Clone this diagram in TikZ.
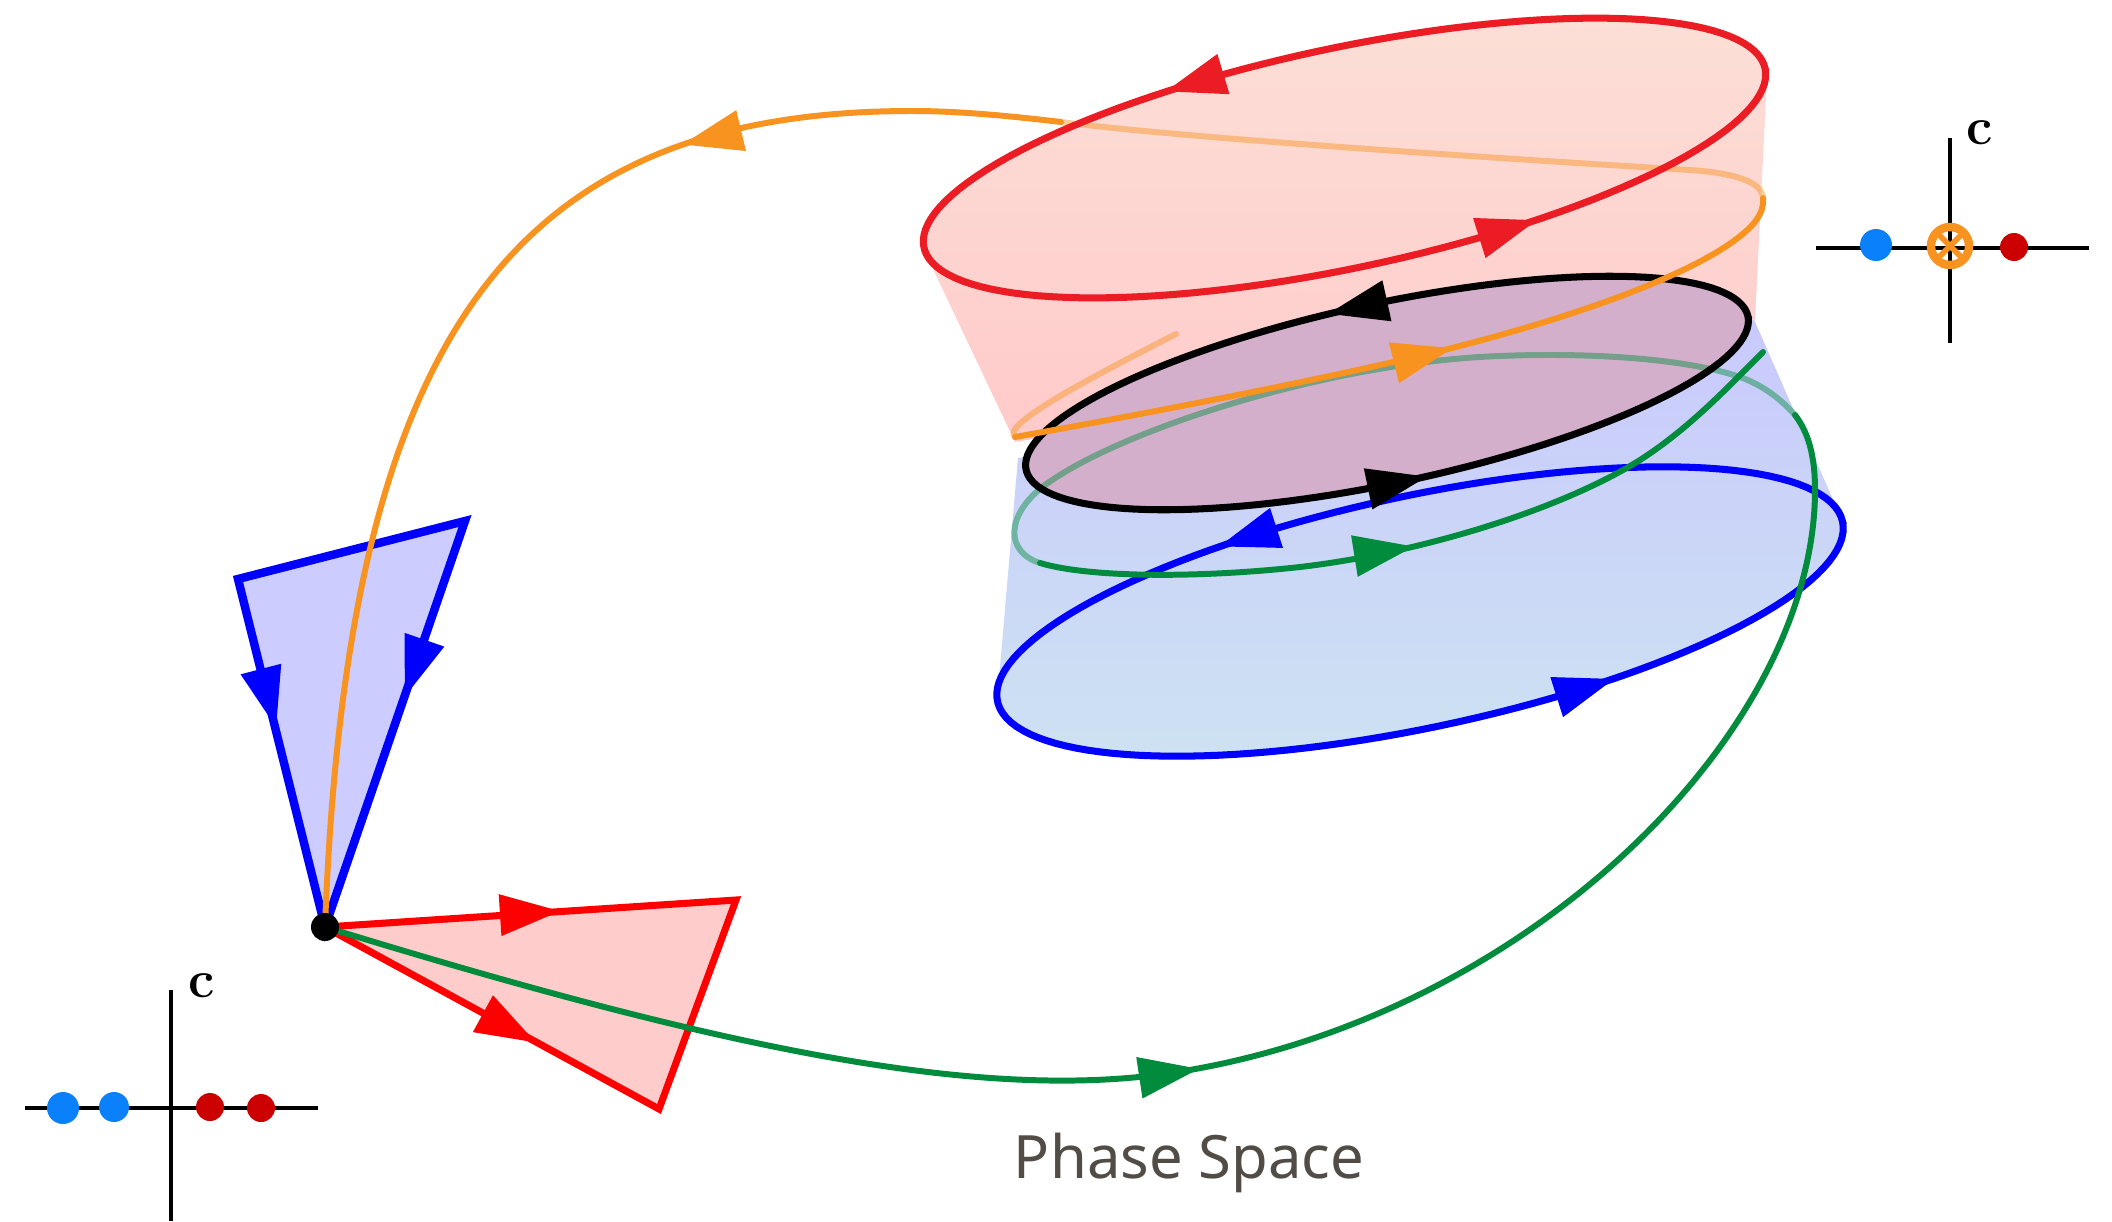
\documentclass[tikz,border=0pt]{standalone}
\usepackage{fontspec}
\newfontfamily\labelfont{Noto Sans}
\definecolor{myred}{HTML}{FF0000}
\definecolor{ellred}{HTML}{EC1C24}
\definecolor{myblue}{HTML}{0000FF}
\definecolor{mygreen}{HTML}{008C3C}
\definecolor{myorange}{HTML}{F7931E}
\definecolor{tripink}{HTML}{FFCCCC}
\definecolor{triblue}{HTML}{CCCCFF}
\definecolor{pinktop}{HTML}{FCDFD6}
\definecolor{pinkbot}{HTML}{FFCACA}
\definecolor{bluetop}{HTML}{C9C9FD}
\definecolor{bluebot}{HTML}{CDE2F2}
\definecolor{mauve}{HTML}{D4AFCB}
\definecolor{dotblue}{HTML}{0A80FA}
\definecolor{dotred}{HTML}{CC0000}
\definecolor{txtgray}{HTML}{514C45}
% ellipse as a plot: cx, cy, a, b, tilt (counterclockwise on screen)
\newcommand\ellplot[5]{plot[domain=0:360,samples=140,variable=\t]({(#1)+(#3)*cos(\t)*cos(#5)-(#4)*sin(\t)*sin(#5)},{(#2)-((#3)*cos(\t)*sin(#5)+(#4)*sin(\t)*cos(#5))})}
% arrow head: colour, x, y, dx, dy (screen direction, y down)
\newcommand\tip[5]{%
  \pgfmathsetmacro\tang{atan2(-(#5),#4)}%
  \fill[#1, shift={(#2,#3)}, rotate=\tang] (28,0) -- (-32,21) -- (-32,-21) -- cycle;}
% arrow head on an ellipse: colour, cx, cy, a, b, tilt, parameter
\newcommand\etip[7]{%
  \pgfmathsetmacro\tpx{(#2)+(#4)*cos(#7)*cos(#6)-(#5)*sin(#7)*sin(#6)}%
  \pgfmathsetmacro\tpy{(#3)-((#4)*cos(#7)*sin(#6)+(#5)*sin(#7)*cos(#6))}%
  \pgfmathsetmacro\tdx{-(#4)*sin(#7)*cos(#6)-(#5)*cos(#7)*sin(#6)}%
  \pgfmathsetmacro\tdy{-(-(#4)*sin(#7)*sin(#6)+(#5)*cos(#7)*cos(#6))}%
  \tip{#1}{\tpx}{\tpy}{\tdx}{\tdy}}
\begin{document}
\begin{tikzpicture}[x=0.01cm,y=-0.01cm,
  ell/.style={line width=2pt},
  traj/.style={line width=1.7pt, line cap=round, line join=round},
  backpart/.style={opacity=0.45},
  axisline/.style={line width=1.2pt, black},
  clabel/.style={font=\bfseries\fontsize{15}{17}\selectfont, inner sep=0pt}]
\useasboundingbox (0,0) rectangle (2112,1221);

% ---------- triangles at the saddle point ----------
\coordinate (D) at (325,927);
\coordinate (BT1) at (238,579);
\coordinate (BT2) at (465,521);
\coordinate (RT1) at (736,900);
\coordinate (RT2) at (659,1109);
\filldraw[fill=triblue, draw=myblue, line width=2.4pt] (D) -- (BT1) -- (BT2) -- cycle;
\filldraw[fill=tripink, draw=myred, line width=2pt] (D) -- (RT1) -- (RT2) -- cycle;
\tip{myblue}{269}{700}{89}{341}
\tip{myblue}{414}{670}{-138}{399}
\tip{myred}{532}{913}{411}{-27}
\tip{myred}{511}{1029}{334}{182}

% ---------- surfaces ----------
\shade[top color=bluetop, bottom color=bluebot]
  (1752,315) -- (1018,458) -- (998,690) -- (1845,527) -- cycle
  \ellplot{1420}{611.5}{432}{116}{12} -- cycle;
\shade[top color=pinktop, bottom color=pinkbot]
  (1767,77) -- (924,250) -- (1015,442) -- (1755,320) -- cycle
  \ellplot{1344.5}{158}{430}{110}{12} -- cycle;
\fill[mauve] \ellplot{1387}{393}{369}{90}{12} -- cycle;

% ---------- hidden parts of trajectories ----------
\draw[traj, myorange, backpart] (1176,334) .. controls (1090,378) and (1000,425) .. (1015,437);
\draw[traj, myorange, backpart] (1763,198) .. controls (1762,182) and (1735,173) .. (1690,170)
  .. controls (1560,162) and (1200,140) .. (1061,122);
\draw[traj, mygreen, backpart] (1795,415) .. controls (1780,398) and (1762,385) .. (1740,377)
  .. controls (1690,360) and (1600,352) .. (1500,356)
  .. controls (1330,362) and (1120,430) .. (1045,485)
  .. controls (1005,515) and (1005,552) .. (1040,563);

% ---------- periodic orbits ----------
\draw[ell, myblue] \ellplot{1420}{611.5}{432}{116}{12} -- cycle;
\draw[ell, black] \ellplot{1387}{393}{369}{90}{12} -- cycle;
\draw[ell, ellred] \ellplot{1344.5}{158}{430}{110}{12} -- cycle;
\etip{ellred}{1344.5}{158}{430}{110}{12}{108}
\etip{ellred}{1344.5}{158}{430}{110}{12}{290}
\etip{black}{1387}{393}{369}{90}{12}{92}
\etip{black}{1387}{393}{369}{90}{12}{269}
\etip{myblue}{1420}{611.5}{432}{116}{12}{111}
\etip{myblue}{1420}{611.5}{432}{116}{12}{290}

% ---------- visible parts of trajectories ----------
\draw[traj, myorange] (1015,437) .. controls (1150,413) and (1330,378) .. (1440,351)
  .. controls (1580,316) and (1700,272) .. (1745,232)
  .. controls (1760,219) and (1764,208) .. (1763,198);
\draw[traj, myorange] (1061,122) .. controls (1010,116) and (960,111) .. (912,111)
  .. controls (511,111) and (347,337) .. (D);
\draw[traj, mygreen] (D) .. controls (700,1042) and (971,1103) .. (1171,1073)
  .. controls (1525,1020) and (1815,733) .. (1815,490)
  .. controls (1815,455) and (1808,432) .. (1795,415);
\draw[traj, mygreen] (1040,563) .. controls (1090,578) and (1200,578) .. (1300,567)
  .. controls (1420,553) and (1560,510) .. (1640,460)
  .. controls (1690,428) and (1730,385) .. (1763,352);
\tip{myorange}{710}{138}{-168}{40}
\tip{myorange}{1425}{355}{100}{-25}
\tip{mygreen}{1171}{1073}{100}{-15}
\tip{mygreen}{1386}{551}{100}{-16}

\fill[black] (D) circle (14);

% ---------- inset: top right ----------
\coordinate (TRl) at (1816,248); \coordinate (TRr) at (2089,248);
\coordinate (TRt) at (1950,138); \coordinate (TRb) at (1950,343);
\draw[axisline] (TRl) -- (TRr);
\draw[axisline] (TRt) -- (TRb);
\fill[dotblue] (1876,245) circle (16);
\fill[dotred] (2014,247) circle (14);
\coordinate (TRo) at (1950,246);
\draw[myorange, line width=2.4pt] (TRo) circle (19);
\draw[myorange, line width=1.6pt] (1938,234) -- (1962,258) (1938,258) -- (1962,234);
\node[clabel] (c1) at (1980,133) {c};

% ---------- inset: bottom left ----------
\coordinate (BLl) at (25,1108); \coordinate (BLr) at (318,1108);
\coordinate (BLt) at (171,990); \coordinate (BLb) at (171,1221);
\draw[axisline] (BLl) -- (BLr);
\draw[axisline] (BLt) -- (BLb);
\fill[dotblue] (63,1108) circle (16);
\fill[dotblue] (114,1107) circle (15);
\fill[dotred] (210,1107) circle (14);
\fill[dotred] (261,1108) circle (14);
\node[clabel] (c2) at (202,986) {c};

% ---------- caption ----------
\node[font=\labelfont\fontsize{17}{20}\selectfont, text=txtgray, anchor=base, inner sep=0pt] (cap) at (1189,1178) {Phase Space};
\end{tikzpicture}
\end{document}
